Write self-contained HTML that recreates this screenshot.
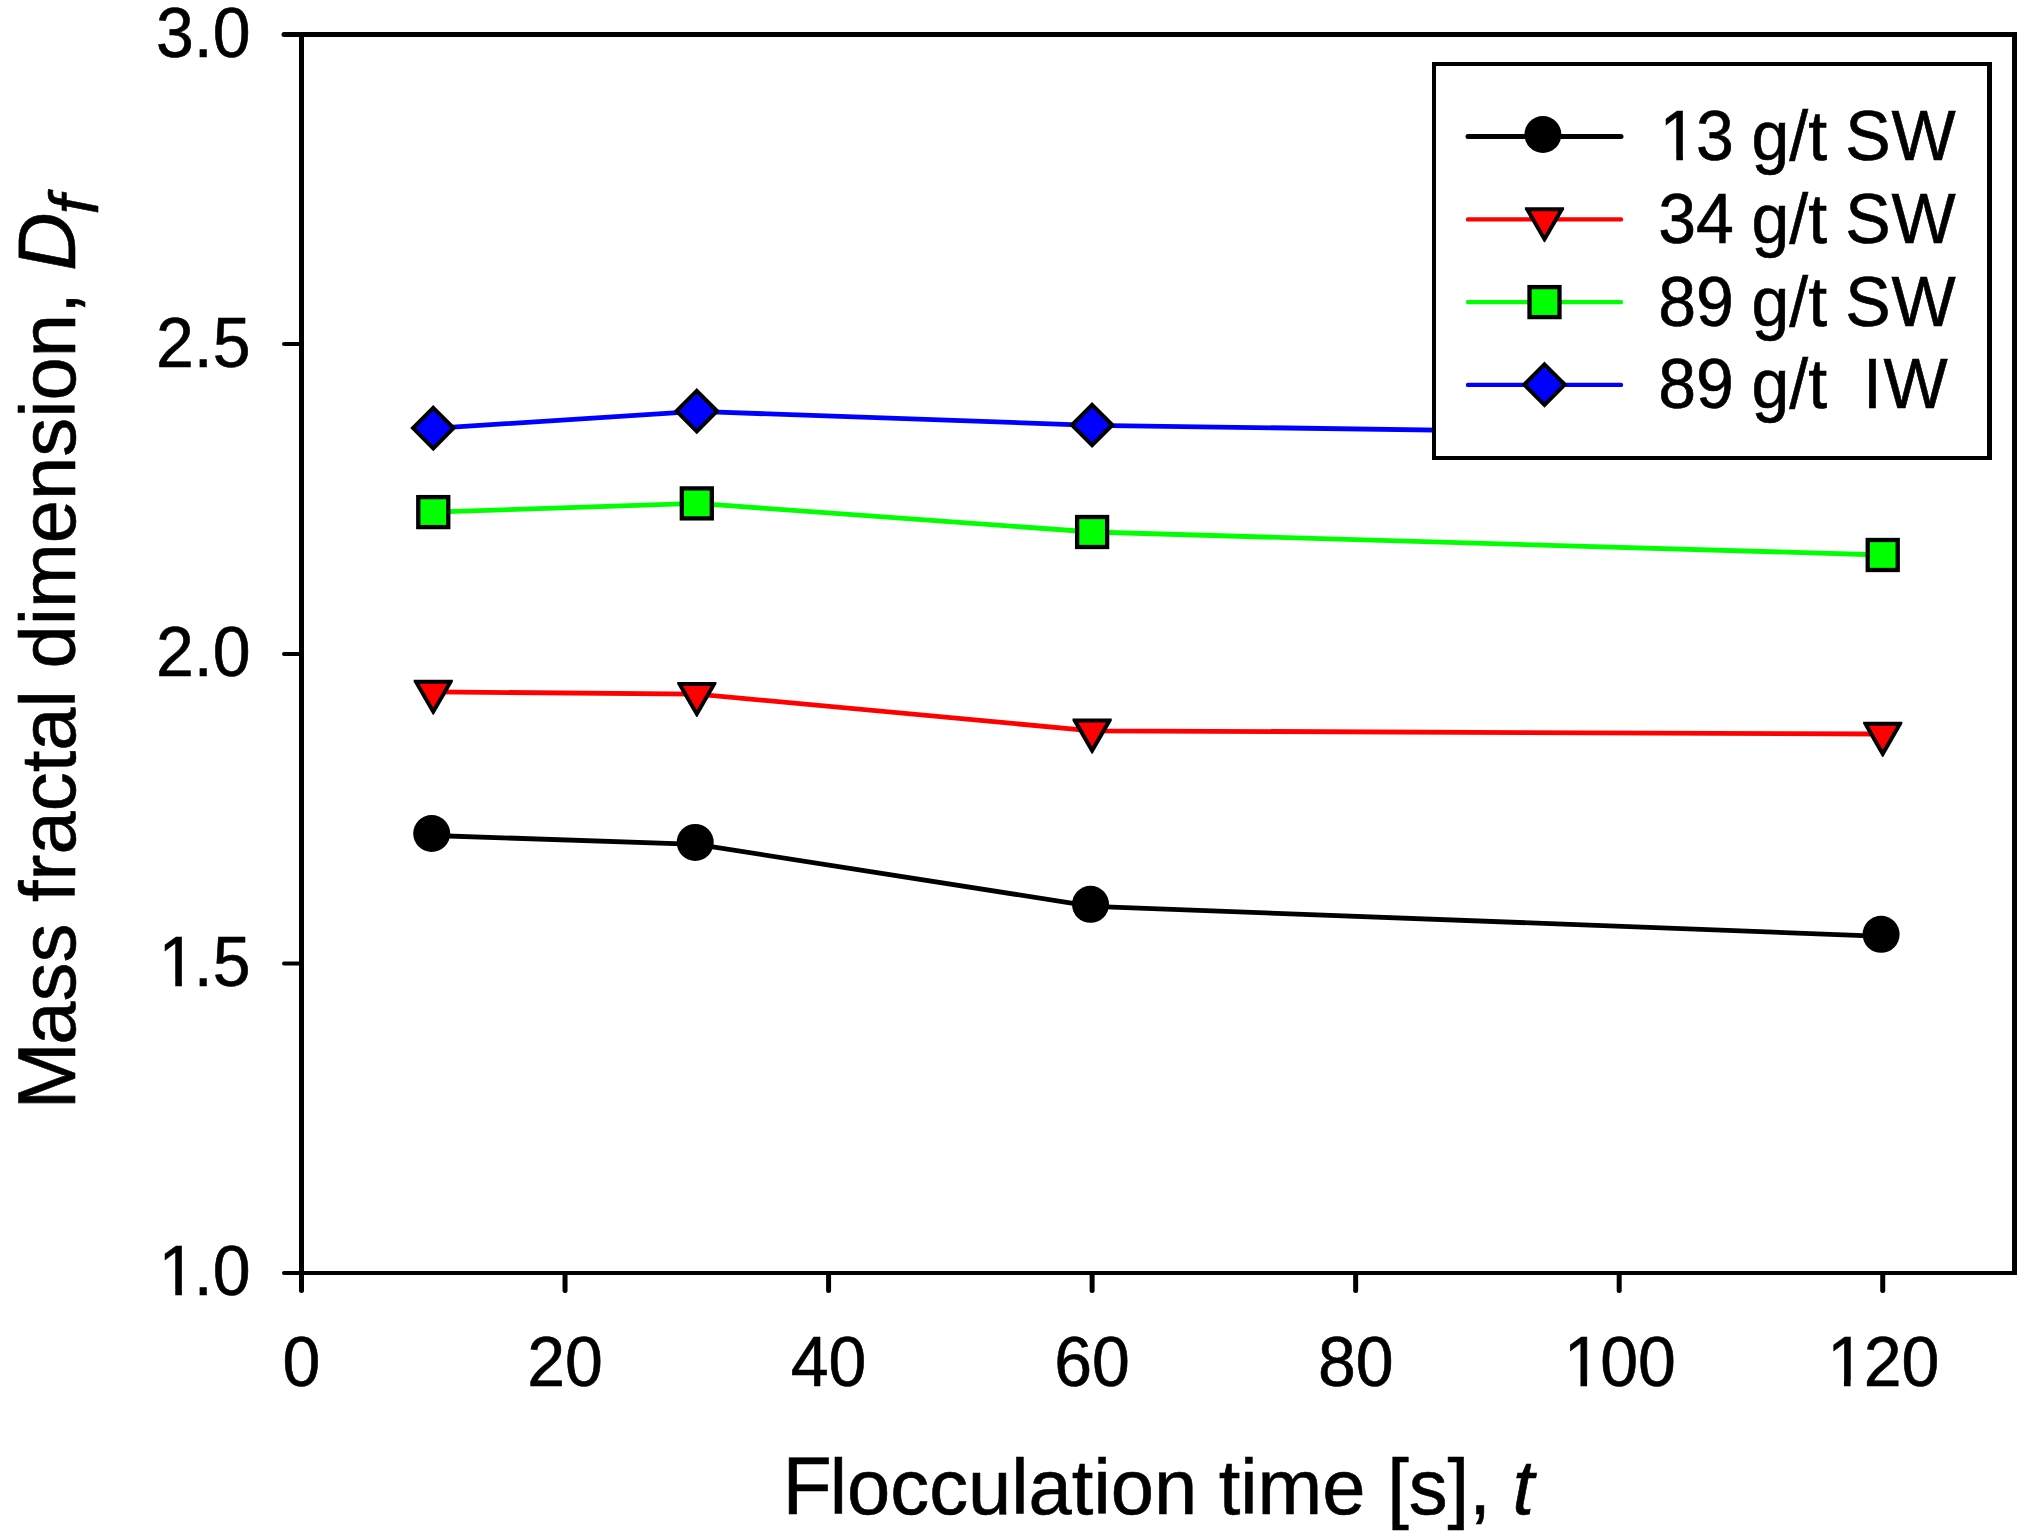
<!DOCTYPE html>
<html lang="en"><head><meta charset="utf-8"><title>Mass fractal dimension vs flocculation time</title>
<style>
html,body{margin:0;padding:0;background:#fff;}
body{width:2030px;height:1538px;overflow:hidden;}
svg{display:block;}
text{font-family:"Liberation Sans",Arial,sans-serif;fill:#000;stroke:#000;stroke-width:0.6px;}
.tk{font-size:68px;}
.ax{font-size:78px;}
.lg{font-size:68px;}
</style></head><body>
<svg width="2030" height="1538" viewBox="0 0 2030 1538">
<rect x="0" y="0" width="2030" height="1538" fill="#fff"/>
<polyline points="433.3,835.5 696.8,844.4 1092.1,906.3 1882.7,936.3" fill="none" stroke="#000" stroke-width="4.8" stroke-linejoin="round"/>
<circle cx="431.7" cy="833.5" r="18.5" fill="#000"/>
<circle cx="695.2" cy="842.4" r="18.5" fill="#000"/>
<circle cx="1090.5" cy="904.3" r="18.5" fill="#000"/>
<circle cx="1881.1" cy="934.3" r="18.5" fill="#000"/>
<polyline points="433.3,691.9 696.8,694.1 1092.1,730.8 1882.7,734.0" fill="none" stroke="#f00" stroke-width="4.8" stroke-linejoin="round"/>
<polygon points="413.67,679.70 452.87,679.70 452.87,681.74 433.77,714.80 432.77,714.80 413.67,681.74" fill="#000"/><polygon points="419.41,683.70 447.13,683.70 433.27,707.70" fill="#f00"/>
<polygon points="677.21,681.90 716.41,681.90 716.41,683.94 697.31,717.00 696.31,717.00 677.21,683.94" fill="#000"/><polygon points="682.95,685.90 710.67,685.90 696.81,709.90" fill="#f00"/>
<polygon points="1072.52,718.60 1111.72,718.60 1111.72,720.64 1092.62,753.70 1091.62,753.70 1072.52,720.64" fill="#000"/><polygon points="1078.26,722.60 1105.98,722.60 1092.12,746.60" fill="#f00"/>
<polygon points="1863.13,721.80 1902.33,721.80 1902.33,723.84 1883.23,756.90 1882.23,756.90 1863.13,723.84" fill="#000"/><polygon points="1868.87,725.80 1896.59,725.80 1882.73,749.80" fill="#f00"/>
<polyline points="433.3,512.1 696.8,503.4 1092.1,532.0 1882.7,555.0" fill="none" stroke="#0f0" stroke-width="4.8" stroke-linejoin="round"/>
<rect x="418.27" y="497.10" width="30" height="30" fill="#0f0" stroke="#000" stroke-width="4.3"/>
<rect x="681.81" y="488.40" width="30" height="30" fill="#0f0" stroke="#000" stroke-width="4.3"/>
<rect x="1077.12" y="517.00" width="30" height="30" fill="#0f0" stroke="#000" stroke-width="4.3"/>
<rect x="1867.73" y="540.00" width="30" height="30" fill="#0f0" stroke="#000" stroke-width="4.3"/>
<polyline points="433.3,428.4 696.8,411.4 1092.1,425.3 1882.7,436.2" fill="none" stroke="#00f" stroke-width="4.8" stroke-linejoin="round"/>
<polygon points="433.27,407.90 453.47,428.10 433.27,448.30 413.07,428.10" fill="#00f" stroke="#000" stroke-width="4" stroke-linejoin="miter"/>
<polygon points="696.81,390.90 717.01,411.10 696.81,431.30 676.61,411.10" fill="#00f" stroke="#000" stroke-width="4" stroke-linejoin="miter"/>
<polygon points="1092.12,404.80 1112.32,425.00 1092.12,445.20 1071.92,425.00" fill="#00f" stroke="#000" stroke-width="4" stroke-linejoin="miter"/>
<polygon points="1882.73,415.70 1902.93,435.90 1882.73,456.10 1862.53,435.90" fill="#00f" stroke="#000" stroke-width="4" stroke-linejoin="miter"/>
<rect x="299" y="32" width="5" height="1243" fill="#000"/>
<rect x="2012" y="32" width="5" height="1243" fill="#000"/>
<rect x="299" y="32" width="1718" height="5" fill="#000"/>
<rect x="299" y="1271" width="1718" height="4" fill="#000"/>
<line x1="284" y1="1273.0" x2="301.5" y2="1273.0" stroke="#000" stroke-width="4" stroke-linecap="round"/>
<text class="tk" transform="translate(155.97 1295.4) scale(1 1.03)"><tspan dx="2.5">1</tspan><tspan dx="-2.5">.0</tspan></text>
<rect x="162.15" y="1288.97" width="13.12" height="7.93" fill="#fff"/><rect x="181.88" y="1288.97" width="12.59" height="7.93" fill="#fff"/>
<line x1="284" y1="963.5" x2="301.5" y2="963.5" stroke="#000" stroke-width="4" stroke-linecap="round"/>
<text class="tk" transform="translate(155.97 986.1) scale(1 1.03)"><tspan dx="2.5">1</tspan><tspan dx="-2.5">.5</tspan></text>
<rect x="162.15" y="979.67" width="13.12" height="7.93" fill="#fff"/><rect x="181.88" y="979.67" width="12.59" height="7.93" fill="#fff"/>
<line x1="284" y1="654.0" x2="301.5" y2="654.0" stroke="#000" stroke-width="4" stroke-linecap="round"/>
<text class="tk" transform="translate(155.97 675.6) scale(1 1.03)">2.0</text>
<line x1="284" y1="344.0" x2="301.5" y2="344.0" stroke="#000" stroke-width="4" stroke-linecap="round"/>
<text class="tk" transform="translate(155.97 366.6) scale(1 1.03)">2.5</text>
<line x1="284" y1="34.5" x2="301.5" y2="34.5" stroke="#000" stroke-width="5" stroke-linecap="round"/>
<text class="tk" transform="translate(155.97 56.9) scale(1 1.03)">3.0</text>
<line x1="301.50" y1="1274" x2="301.50" y2="1290.5" stroke="#000" stroke-width="5" stroke-linecap="round"/>
<text class="tk" transform="translate(282.59 1386.3) scale(1 1.03)">0</text>
<line x1="565.04" y1="1274" x2="565.04" y2="1290.5" stroke="#000" stroke-width="5" stroke-linecap="round"/>
<text class="tk" transform="translate(527.18 1386.3) scale(1 1.03)">20</text>
<line x1="828.58" y1="1274" x2="828.58" y2="1290.5" stroke="#000" stroke-width="5" stroke-linecap="round"/>
<text class="tk" transform="translate(790.78 1386.3) scale(1 1.03)">40</text>
<line x1="1092.12" y1="1274" x2="1092.12" y2="1290.5" stroke="#000" stroke-width="5" stroke-linecap="round"/>
<text class="tk" transform="translate(1054.28 1386.3) scale(1 1.03)">60</text>
<line x1="1355.65" y1="1274" x2="1355.65" y2="1290.5" stroke="#000" stroke-width="5" stroke-linecap="round"/>
<text class="tk" transform="translate(1317.88 1386.3) scale(1 1.03)">80</text>
<line x1="1619.19" y1="1274" x2="1619.19" y2="1290.5" stroke="#000" stroke-width="5" stroke-linecap="round"/>
<text class="tk" transform="translate(1562.47 1386.3) scale(1 1.03)"><tspan dx="1.2">1</tspan><tspan dx="-1.2">00</tspan></text>
<rect x="1567.35" y="1379.87" width="13.12" height="7.93" fill="#fff"/><rect x="1587.08" y="1379.87" width="12.59" height="7.93" fill="#fff"/>
<line x1="1882.73" y1="1274" x2="1882.73" y2="1290.5" stroke="#000" stroke-width="5" stroke-linecap="round"/>
<text class="tk" transform="translate(1825.97 1386.3) scale(1 1.03)"><tspan dx="1.2">1</tspan><tspan dx="-1.2">20</tspan></text>
<rect x="1830.85" y="1379.87" width="13.12" height="7.93" fill="#fff"/><rect x="1850.58" y="1379.87" width="12.59" height="7.93" fill="#fff"/>
<text class="ax" transform="translate(782.4 1513.8) scale(0.9967 1.0)"><tspan font-size="81">F</tspan><tspan dx="-1.9">locculation</tspan> time [s], <tspan font-style="italic">t</tspan></text>
<text class="ax" transform="translate(74.8,1109.5) rotate(-90) scale(0.9975 1.0)"><tspan font-size="81">M</tspan><tspan dx="-2.5">ass</tspan> fractal dimension, <tspan font-style="italic" font-size="81">D</tspan><tspan font-style="italic" font-size="69" dy="23" dx="-2.2">f</tspan></text>
<rect x="1432" y="62" width="560" height="398" fill="#000"/>
<rect x="1436" y="66" width="551" height="390" fill="#fff"/>
<line x1="1468" y1="136.5" x2="1621" y2="136.5" stroke="#000" stroke-width="5" stroke-linecap="round"/>
<circle cx="1542.9" cy="134.5" r="18.5" fill="#000"/>
<text class="lg" transform="translate(1658.3 160) scale(1 1.03)" xml:space="preserve" style="white-space:pre"><tspan dx="1.2">1</tspan><tspan dx="-1.2">3</tspan><tspan dx="-1.3"> g/t</tspan><tspan dx="-0.7"> S</tspan><tspan dx="0.9">W</tspan></text>
<rect x="1663.18" y="153.57" width="13.12" height="7.93" fill="#fff"/><rect x="1682.91" y="153.57" width="12.59" height="7.93" fill="#fff"/>
<line x1="1468" y1="219.4" x2="1621" y2="219.4" stroke="#f00" stroke-width="4.4" stroke-linecap="round"/>
<polygon points="1524.90,207.20 1564.10,207.20 1564.10,209.24 1545.00,242.30 1544.00,242.30 1524.90,209.24" fill="#000"/><polygon points="1530.64,211.20 1558.36,211.20 1544.50,235.20" fill="#f00"/>
<text class="lg" transform="translate(1658.3 242.7) scale(1 1.03)" xml:space="preserve" style="white-space:pre">34<tspan dx="-1.3"> g/t</tspan><tspan dx="-0.7"> S</tspan><tspan dx="0.9">W</tspan></text>
<line x1="1468" y1="302.1" x2="1621" y2="302.1" stroke="#0f0" stroke-width="4.4" stroke-linecap="round"/>
<rect x="1529.50" y="287.10" width="30" height="30" fill="#0f0" stroke="#000" stroke-width="4.3"/>
<text class="lg" transform="translate(1658.3 325.5) scale(1 1.03)" xml:space="preserve" style="white-space:pre">89<tspan dx="-1.3"> g/t</tspan><tspan dx="-0.7"> S</tspan><tspan dx="0.9">W</tspan></text>
<line x1="1468" y1="384.9" x2="1621" y2="384.9" stroke="#00f" stroke-width="4.4" stroke-linecap="round"/>
<polygon points="1544.50,364.40 1564.70,384.60 1544.50,404.80 1524.30,384.60" fill="#00f" stroke="#000" stroke-width="4" stroke-linejoin="miter"/>
<text class="lg" transform="translate(1658.3 408) scale(1 1.03)" xml:space="preserve" style="white-space:pre">89<tspan dx="-1.3"> g/t</tspan><tspan dx="-1.9">  I</tspan><tspan dx="1.5">W</tspan></text>
</svg></body></html>
